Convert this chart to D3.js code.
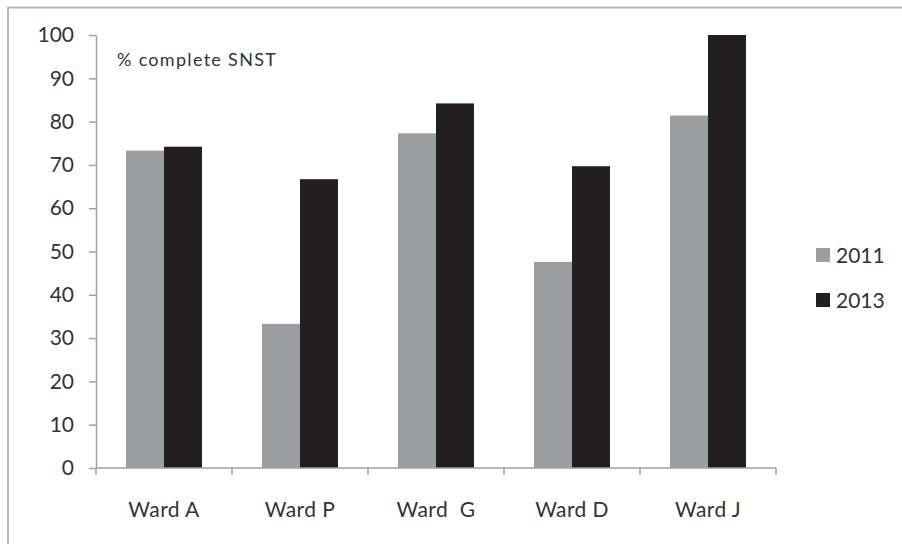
<!DOCTYPE html>
<html>
<head>
<meta charset="utf-8">
<script src="https://cdn.jsdelivr.net/npm/d3@7"></script>
<style>
  html, body { margin: 0; padding: 0; background: #fff; }
  svg { display: block; }
  text { font-family: Lato, "Open Sans", sans-serif; fill: #333; }
</style>
</head>
<body>
<script>
const wards = ["Ward A", "Ward P", "Ward  G", "Ward D", "Ward J"];
const years = ["2011", "2013"];
const values2011 = [73.3, 33.3, 77.3, 47.6, 81.4];
const values2013 = [74.2, 66.7, 84.2, 69.7, 100];
const yTicks = [0, 10, 20, 30, 40, 50, 60, 70, 80, 90, 100];
const seriesColors = ["#9c9ea1", "#231f20"];
const chartNote = "% complete SNST";

const W = 902, H = 544;
const svg = d3.select("body").append("svg").attr("width", W).attr("height", H);

// outer frame (top and left edges visible)
svg.append("path")
  .attr("d", `M8,${H} L8,7.5 L${W},7.5`)
  .attr("fill", "none").attr("stroke", "#b5b7ba").attr("stroke-width", 2);

const plot = { left: 96, right: 776, top: 35, bottom: 468 };

const x = d3.scaleBand().domain(wards).range([plot.left, plot.right]);
const y = d3.scaleLinear().domain([0, 100]).range([plot.bottom, plot.top]);
const inner = d3.scaleBand().domain(years)
  .range([0, x.bandwidth()]).paddingOuter(0.79).paddingInner(0);

const series = [values2011, values2013];

// bars
years.forEach((yr, si) => {
  svg.append("g").selectAll("rect")
    .data(wards.map((w, i) => ({ w, v: series[si][i] })))
    .join("rect")
    .attr("x", d => x(d.w) + inner(yr))
    .attr("y", d => y(d.v))
    .attr("width", inner.bandwidth())
    .attr("height", d => y(0) - y(d.v))
    .attr("fill", seriesColors[si]);
});

// y axis
const yAxis = svg.append("g")
  .attr("transform", `translate(${plot.left},0)`)
  .call(d3.axisLeft(y).tickValues(yTicks).tickSize(7).tickPadding(15).tickSizeOuter(0));
yAxis.select(".domain").attr("stroke", "#9fa1a4").attr("stroke-width", 1.5);
yAxis.selectAll(".tick line").attr("stroke", "#9fa1a4").attr("stroke-width", 1.5);
yAxis.selectAll(".tick text")
  .style("font-family", "Lato, 'Open Sans', sans-serif")
  .attr("font-size", 21).attr("fill", "#333");

// x axis with ticks at category boundaries
const xAxisG = svg.append("g").attr("transform", `translate(0,${plot.bottom})`);
xAxisG.append("line")
  .attr("x1", plot.left).attr("x2", plot.right)
  .attr("stroke", "#9fa1a4").attr("stroke-width", 1.5);
const boundaries = wards.map(w => x(w)).concat([plot.right]);
xAxisG.selectAll("line.tk").data(boundaries).join("line")
  .attr("class", "tk")
  .attr("x1", d => d).attr("x2", d => d).attr("y1", 0).attr("y2", 7)
  .attr("stroke", "#9fa1a4").attr("stroke-width", 1.5);
xAxisG.selectAll("text").data(wards).join("text")
  .attr("x", d => x(d) + x.bandwidth() / 2)
  .attr("y", 49)
  .attr("text-anchor", "middle")
  .attr("font-size", 21)
  .attr("letter-spacing", 0.4)
  .style("white-space", "pre")
  .text(d => d);

// note in the plot area
svg.append("text")
  .attr("x", 117).attr("y", 66)
  .attr("font-size", 18)
  .attr("letter-spacing", 1.3)
  .text(chartNote);

// legend
const legend = svg.append("g");
years.forEach((yr, i) => {
  const cy = 255 + i * 45;
  legend.append("rect")
    .attr("x", 816).attr("y", cy - 7).attr("width", 14).attr("height", 14)
    .attr("fill", seriesColors[i]);
  legend.append("text")
    .attr("x", 836).attr("y", cy + 7.5)
    .attr("font-size", 21)
    .text(yr);
});
</script>
</body>
</html>
